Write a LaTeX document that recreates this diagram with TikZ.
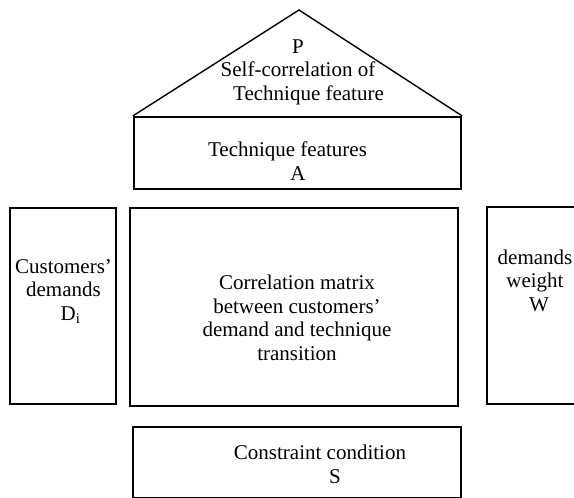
\documentclass[tikz,border=0pt]{standalone}
\usepackage{fontspec}
\setmainfont{Liberation Serif}
\begin{document}
\begin{tikzpicture}[x=1pt,y=-1pt,
  box/.style={draw=black, rectangle, inner sep=0pt},
  txt/.style={align=center, inner sep=0pt, anchor=base,
    font=\fontsize{21}{23.5}\selectfont}]
\useasboundingbox (0,0) rectangle (574,498);
\clip (0,0) rectangle (574,498);

% house roof and beam
\node[box, line width=2.2pt, minimum width=327pt, minimum height=72pt] (tech) at (297.5,153) {};
\coordinate (apex) at (299,10);
\draw[line width=1.4pt, line join=miter] (tech.north west) -- (apex) -- (tech.north east);

% walls and room
\node[box, line width=1.5pt, minimum width=106pt, minimum height=196pt] (cust) at (63,306) {};
\node[box, line width=2.2pt, minimum width=328pt, minimum height=198pt] (corr) at (294,307) {};
\node[box, line width=1.5pt, minimum width=96pt, minimum height=197pt] (weight) at (535,305.5) {};

% foundation
\node[box, line width=2pt, minimum width=328pt, minimum height=71pt] (cons) at (297,462.5) {};

% labels (anchored at the baseline of their last line)
\node[txt] (roofText) at (298,100) {P\\Self-correlation of\\\hspace*{21pt}Technique feature};
\node[txt] (techText) at (298,180) {Technique features\hspace*{21pt}\\A};
\node[txt] (custText) at (63.5,320) {Customers’\\demands\\\hspace*{14pt}D\textsubscript{i}};
\node[txt] (corrText) at (297,360) {Correlation matrix\\between customers’\\demand and technique\\transition};
\node[txt] (weightText) at (535,311) {demands\\weight\\\hspace*{8pt}W};
\node[txt] (consText) at (320,483) {Constraint condition\\\hspace*{30pt}S};
\end{tikzpicture}
\end{document}
